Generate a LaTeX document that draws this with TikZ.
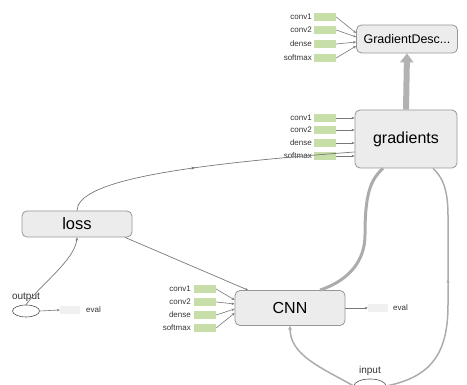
\documentclass[tikz,border=0pt]{standalone}
\usepackage{fontspec}
\setmainfont{Liberation Sans}
\usetikzlibrary{arrows.meta,decorations.markings,shapes.geometric}
\definecolor{opfill}{RGB}{236,236,236}
\definecolor{opdraw}{RGB}{150,150,150}
\definecolor{varfill}{RGB}{200,222,168}
\definecolor{edgec}{RGB}{120,120,120}
\tikzset{
  opnode/.style={draw=opdraw, fill=opfill, rounded corners=5pt, line width=0.8pt, inner sep=0pt},
  varbox/.style={fill=varfill, minimum width=22pt, minimum height=8pt, inner sep=0pt},
  summbox/.style={fill=gray!12, minimum width=20pt, minimum height=8pt, inner sep=0pt},
  varlabel/.style={font=\fontsize{8}{9}\selectfont, anchor=east, inner sep=0pt, text=black!80},
  smalltext/.style={font=\fontsize{8}{9}\selectfont, inner sep=0pt, text=black!80},
  iotext/.style={font=\fontsize{10}{12}\selectfont, inner sep=0pt, text=black!80},
  thin edge/.style={draw=edgec, line width=0.6pt, -{Stealth[length=3pt,width=2.5pt]}},
  io/.style={draw=black!70, ellipse, line width=0.6pt, inner sep=0pt, fill=white},
  midarrow/.style={postaction={decorate}, decoration={markings, mark=at position #1 with {\arrow{Stealth[length=4pt,width=3pt]}}}}
}
\begin{document}
\begin{tikzpicture}[x=1pt,y=1pt]
\useasboundingbox (0,0) rectangle (467,385);
\clip (0,0) rectangle (467,385);

% main operation nodes
\node[opnode, minimum width=101pt, minimum height=28pt, font=\fontsize{12.5}{14}\selectfont] (gd) at (407,346) {GradientDesc...};
\node[opnode, minimum width=102pt, minimum height=58pt, font=\fontsize{16}{18}\selectfont] (grad) at (406,246) {gradients};
\node[opnode, minimum width=110pt, minimum height=26pt, font=\fontsize{16.5}{18}\selectfont] (loss) at (77,161) {loss};
\node[opnode, minimum width=110pt, minimum height=35pt, font=\fontsize{16}{18}\selectfont] (cnn) at (290,77) {CNN};

% inputs and outputs
\node[io, minimum width=27pt, minimum height=12pt] (out) at (26,74) {};
\node[iotext] (outlab) at (26,88) {output};
\node[io, minimum width=32pt, minimum height=14pt] (in) at (370,-1) {};
\node[iotext] (inlab) at (370,14) {input};

% summaries
\node[summbox] (ev1) at (70,75) {};
\node[smalltext, anchor=west] (ev1t) at (86,75) {eval};
\node[summbox] (ev2) at (378,77) {};
\node[smalltext, anchor=west] (ev2t) at (393,77) {eval};
\draw[thin edge] (out.east) -- (ev1.west);
\draw[thin edge] (cnn.east) -- (ev2.west);

% variable groups
\foreach \n/\y [count=\i] in {conv1/368,conv2/355,dense/341,softmax/327}{
  \node[varbox] (gdv\i) at (325,\y) {};
  \node[varlabel] (gdl\i) at (312,\y) {\n};
}
\foreach \n/\y [count=\i] in {conv1/267,conv2/255,dense/242,softmax/229}{
  \node[varbox] (grv\i) at (325,\y) {};
  \node[varlabel] (grl\i) at (312,\y) {\n};
}
\foreach \n/\y [count=\i] in {conv1/96,conv2/83,dense/70,softmax/57}{
  \node[varbox] (cnv\i) at (205,\y) {};
  \node[varlabel] (cnl\i) at (191,\y) {\n};
}
\foreach \i/\dy in {1/6,2/2,3/-3,4/-7}{
  \draw[thin edge] (gdv\i.east) -- ([yshift=\dy pt]gd.west);
}
\foreach \i in {1,...,4}{
  \draw[thin edge] (grv\i.east) -- (grv\i.east -| grad.west);
}
\foreach \i/\dy in {1/8,2/4,3/-1,4/-5}{
  \draw[thin edge] (cnv\i.east) -- ([yshift=\dy pt]cnn.west);
}

% data-flow edges
\draw[draw=edgec, line width=0.7pt, midarrow=0.45] (loss.north) .. controls (78,200) and (150,218) .. ([yshift=-13pt]grad.west);
\draw[thin edge, line width=0.7pt] ([xshift=48pt]loss.south) -- ([xshift=-42pt]cnn.north);
\draw[thin edge, line width=0.7pt] (out.north) .. controls (40,100) and (75,125) .. (loss.south);
\draw[draw=gray!65, line width=3pt] ([xshift=30pt]cnn.north) .. controls (350,105) and (365,125) .. (365,150) .. controls (365,190) and (370,205) .. ([xshift=-23pt]grad.south);
\draw[draw=gray!65, line width=1.5pt, midarrow=0.55] (in.east) .. controls (430,8) and (448,30) .. (448,80) -- (448,170) .. controls (448,200) and (440,210) .. ([xshift=27pt]grad.south);
\draw[draw=gray!65, line width=1.5pt, -{Stealth[length=4pt,width=4pt]}] (in.west) .. controls (320,18) and (290,30) .. (cnn.south);
\draw[draw=gray!60, line width=6pt, -{Triangle[width=13pt,length=9pt]}] (grad.north) -- (gd.south);
\end{tikzpicture}
\end{document}
